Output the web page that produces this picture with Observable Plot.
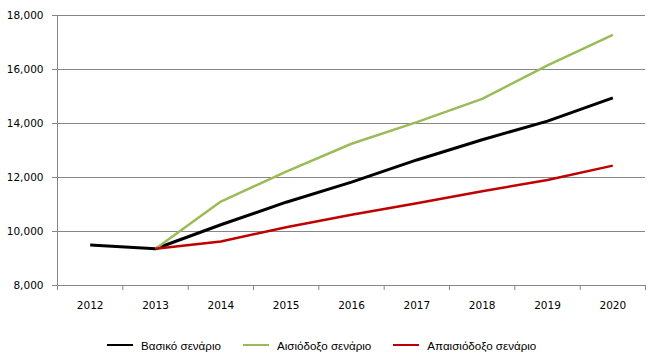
<!DOCTYPE html>
<html>
<head>
<meta charset="utf-8">
<script src="https://cdn.jsdelivr.net/npm/d3@7"></script>
<script src="https://cdn.jsdelivr.net/npm/@observablehq/plot@0.6"></script>
<style>
  html, body { margin: 0; padding: 0; background: #fff; }
  #wrap { width: 669px; height: 361px; position: relative; overflow: hidden; }
  #legend { display: flex; align-items: center; gap: 22px; padding-left: 107px; height: 36px; margin-top: 2px;
    font-family: "Liberation Sans", Arial, sans-serif; font-size: 11.6px; color: #000; }
  .item { display: flex; align-items: center; gap: 8px; }
  .sw { width: 26px; height: 0; border-top-style: solid; border-top-width: 2px; }
</style>
</head>
<body>
<div id="wrap"></div>
<script>
const years = [2012, 2013, 2014, 2015, 2016, 2017, 2018, 2019, 2020];
const baseline = [9500, 9360, 10250, 11085, 11830, 12650, 13400, 14090, 14950];
const optimistic = [null, 9360, 11110, 12220, 13250, 14050, 14910, 16150, 17280];
const pessimistic = [null, 9360, 9630, 10160, 10620, 11050, 11490, 11910, 12440];
const seriesNames = ["Βασικό σενάριο", "Αισιόδοξο σενάριο", "Απαισιόδοξο σενάριο"];
const seriesColors = ["#000000", "#9BBB59", "#C00000"];
const seriesWidths = [3, 2.5, 2.5];
const yTicks = [8000, 10000, 12000, 14000, 16000, 18000];

const allSeries = [baseline, optimistic, pessimistic];
const rows = allSeries.flatMap((vals, s) =>
  years.map((yr, i) => ({year: yr, value: vals[i], series: seriesNames[s]})));

const gridColor = "#868686";
const xMin = years[0] - 0.5, xMax = years[years.length - 1] + 0.5;
const boundaries = d3.range(xMin, xMax + 0.01, 1);

const chart = Plot.plot({
  width: 669,
  height: 325,
  marginLeft: 57,
  marginRight: 24,
  marginTop: 15,
  marginBottom: 40,
  style: {fontFamily: "'DejaVu Sans', Verdana, sans-serif", fontSize: "10.5px", color: "#000", background: "#fff"},
  x: {type: "linear", domain: [xMin, xMax]},
  y: {domain: [yTicks[0], yTicks[yTicks.length - 1]]},
  marks: [
    Plot.gridY(yTicks, {stroke: gridColor, strokeOpacity: 1, strokeWidth: 1}),
    Plot.ruleX([xMin], {stroke: gridColor, strokeWidth: 1}),
    Plot.axisY(yTicks, {tickSize: 5, tickPadding: 9, stroke: gridColor, tickFormat: d3.format(","), label: null, fill: "#000"}),
    Plot.axisX(boundaries, {tickSize: 5, tickFormat: () => "", stroke: gridColor, label: null}),
    Plot.axisX(years, {tickSize: 0, tickPadding: 16, tickFormat: d => String(d), label: null, fill: "#000"}),
    ...seriesNames.map((name, s) =>
      Plot.line(rows.filter(r => r.series === name), {
        x: "year", y: "value",
        stroke: seriesColors[s], strokeWidth: seriesWidths[s],
        strokeLinejoin: "round", strokeLinecap: "butt"
      }))
  ]
});

const wrap = document.getElementById("wrap");
wrap.appendChild(chart);
const legend = document.createElement("div");
legend.id = "legend";
seriesNames.forEach((name, s) => {
  const item = document.createElement("div");
  item.className = "item";
  const sw = document.createElement("span");
  sw.className = "sw";
  sw.style.borderTopColor = seriesColors[s];
  const tx = document.createElement("span");
  tx.textContent = name;
  item.appendChild(sw);
  item.appendChild(tx);
  legend.appendChild(item);
});
wrap.appendChild(legend);
</script>
</body>
</html>
